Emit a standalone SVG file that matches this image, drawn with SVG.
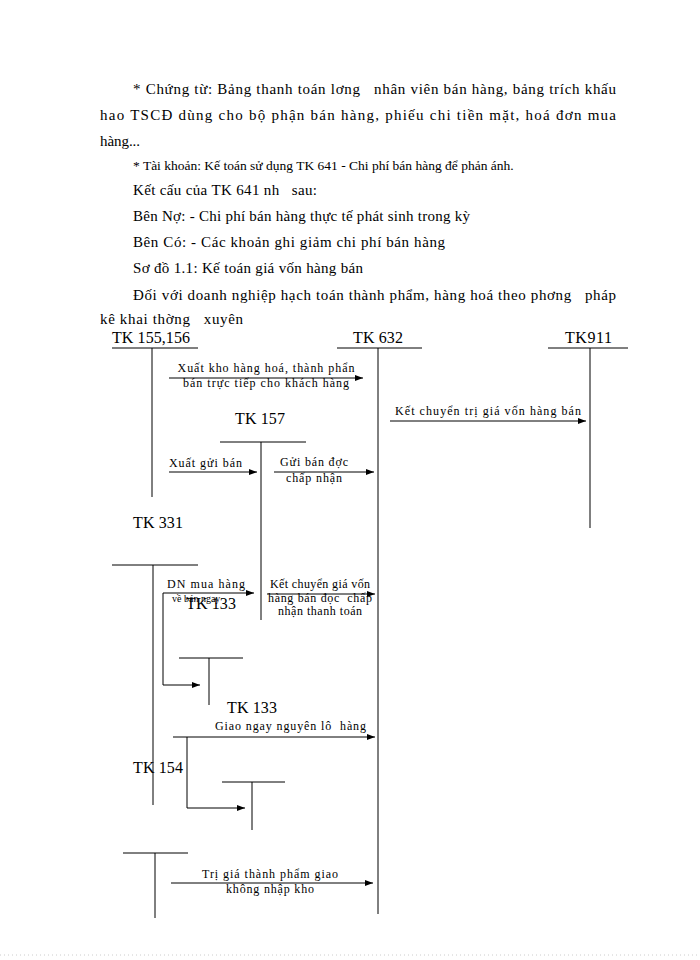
<svg xmlns="http://www.w3.org/2000/svg" width="700" height="960" viewBox="0 0 700 960">
<defs>
<marker id="ah" viewBox="0 0 10 10" refX="10" refY="5" markerWidth="8" markerHeight="6" markerUnits="userSpaceOnUse" orient="auto" preserveAspectRatio="none">
<path d="M0,0 L10,5 L0,10 z" fill="#000"/>
</marker>
<style>
text{font-family:"Liberation Serif","DejaVu Serif",serif;fill:#000;white-space:pre}
.p{font-size:15px}
.p14{font-size:13.5px}
.tk{font-size:16px}
.lb{font-size:12px}
.sm{font-size:10px}
.ln{stroke:#000;stroke-width:1;fill:none}
.ar{stroke:#000;stroke-width:1;fill:none;marker-end:url(#ah)}
</style>
</defs>
<rect width="700" height="960" fill="#fff"/>
<g id="paragraph">
<text class="p" x="133" y="94" textLength="483" lengthAdjust="spacing">* Chứng từ: Bảng thanh toán lơng   nhân viên bán hàng, bảng trích khấu</text>
<text class="p" x="100" y="120" textLength="516" lengthAdjust="spacing">hao TSCĐ dùng cho bộ phận bán hàng, phiếu chi tiền mặt, hoá đơn mua</text>
<text class="p" x="100" y="146" textLength="40" lengthAdjust="spacing">hàng...</text>
<text class="p14" x="133" y="170">* Tài khoản: Kế toán sử dụng TK 641 - Chi phí bán hàng để phản ánh.</text>
<text class="p" x="133" y="195" textLength="184" lengthAdjust="spacing">Kết cấu của TK 641 nh   sau:</text>
<text class="p" x="133" y="221" textLength="337" lengthAdjust="spacing">Bên Nợ: - Chi phí bán hàng thực tế phát sinh trong kỳ</text>
<text class="p" x="133" y="247" textLength="312" lengthAdjust="spacing">Bên Có: - Các khoản ghi giảm chi phí bán hàng</text>
<text class="p" x="133" y="273" textLength="230" lengthAdjust="spacing">Sơ đồ 1.1: Kế toán giá vốn hàng bán</text>
<text class="p" x="133" y="300" textLength="483" lengthAdjust="spacing">Đối với doanh nghiệp hạch toán thành phẩm, hàng hoá theo phơng   pháp</text>
<text class="p" x="100" y="324" textLength="143" lengthAdjust="spacing">kê khai thờng   xuyên</text>
</g>
<g id="tk155">
<text class="tk" x="112" y="343" textLength="78">TK 155,156</text>
<line class="ln" x1="112" y1="348" x2="198" y2="348"/>
<line class="ln" x1="152" y1="348" x2="152" y2="497"/>
</g>
<g id="tk632">
<text class="tk" x="353" y="343" textLength="50">TK 632</text>
<line class="ln" x1="337" y1="348" x2="422" y2="348"/>
<line class="ln" x1="378" y1="348" x2="378" y2="914"/>
</g>
<g id="tk911">
<text class="tk" x="565" y="343" textLength="47">TK911</text>
<line class="ln" x1="548" y1="348" x2="628" y2="348"/>
<line class="ln" x1="590" y1="348" x2="590" y2="528"/>
</g>
<g id="tk157">
<text class="tk" x="235" y="424" textLength="50">TK 157</text>
<line class="ln" x1="220" y1="442" x2="306" y2="442"/>
<line class="ln" x1="261" y1="442" x2="261" y2="620"/>
</g>
<g id="tk331">
<text class="tk" x="133" y="528" textLength="50">TK 331</text>
<line class="ln" x1="112" y1="565" x2="198" y2="565"/>
<line class="ln" x1="153" y1="565" x2="153" y2="805"/>
</g>
<g id="tk133a">
<line class="ln" x1="179" y1="658" x2="243" y2="658"/>
<line class="ln" x1="209" y1="658" x2="209" y2="705"/>
</g>
<g id="tk133">
<text class="tk" x="227" y="713" textLength="50">TK 133</text>
<line class="ln" x1="222" y1="782" x2="285" y2="782"/>
<line class="ln" x1="252" y1="782" x2="252" y2="830"/>
</g>
<g id="tk154">
<text class="tk" x="133" y="773" textLength="50">TK 154</text>
<line class="ln" x1="123" y1="853" x2="188" y2="853"/>
<line class="ln" x1="155" y1="853" x2="155" y2="918"/>
</g>
<g id="connectors">
<line class="ar" x1="169" y1="378" x2="363" y2="378"/>
<line class="ar" x1="390" y1="421" x2="586" y2="421"/>
<line class="ar" x1="169" y1="472" x2="257" y2="472"/>
<line class="ar" x1="274" y1="472" x2="374" y2="472"/>
<line class="ar" x1="163" y1="593" x2="254" y2="593"/>
<line class="ar" x1="267" y1="594" x2="375" y2="594"/>
<polyline class="ar" points="163,593 163,685 200,685"/>
<line class="ar" x1="173" y1="737" x2="375" y2="737"/>
<polyline class="ar" points="187,737 187,808 245,808"/>
<line class="ar" x1="171" y1="883" x2="373" y2="883"/>
</g>
<g id="labels">
<text class="lb" x="266" y="372" text-anchor="middle" textLength="177" lengthAdjust="spacing">Xuất kho hàng hoá, thành phẩn</text>
<text class="lb" x="266" y="387" text-anchor="middle" textLength="166" lengthAdjust="spacing">bán trực tiếp cho khách hàng</text>
<text class="lb" x="488" y="415" text-anchor="middle" textLength="186" lengthAdjust="spacing">Kết chuyển trị giá vốn hàng bán</text>
<text class="lb" x="169" y="467" textLength="73" lengthAdjust="spacing">Xuất gửi bán</text>
<text class="lb" x="314" y="466" text-anchor="middle" textLength="68" lengthAdjust="spacing">Gửi bán đợc</text>
<text class="lb" x="314" y="482" text-anchor="middle" textLength="56" lengthAdjust="spacing">chấp nhận</text>
<text class="lb" x="167" y="588" textLength="78" lengthAdjust="spacing">DN mua hàng</text>
<text class="sm" x="172" y="602">về bán ngay</text>
<text class="tk" x="186" y="609" textLength="50">TK 133</text>
<text class="lb" x="320" y="588" text-anchor="middle" textLength="100" lengthAdjust="spacing">Kết chuyển giá vốn</text>
<text class="lb" x="320" y="602" text-anchor="middle" textLength="104" lengthAdjust="spacing">hàng bán đọc  chấp</text>
<text class="lb" x="320" y="615" text-anchor="middle" textLength="84" lengthAdjust="spacing">nhận thanh toán</text>
<text class="lb" x="215" y="730" textLength="151" lengthAdjust="spacing">Giao ngay nguyên lô  hàng</text>
<text class="lb" x="270" y="878" text-anchor="middle" textLength="136" lengthAdjust="spacing">Trị giá thành phẩm giao</text>
<text class="lb" x="270" y="893" text-anchor="middle" textLength="88" lengthAdjust="spacing">không nhập kho</text>
</g>
<line x1="0" y1="955" x2="700" y2="955" stroke="#ccc" stroke-width="1" stroke-dasharray="1,3"/>
</svg>
